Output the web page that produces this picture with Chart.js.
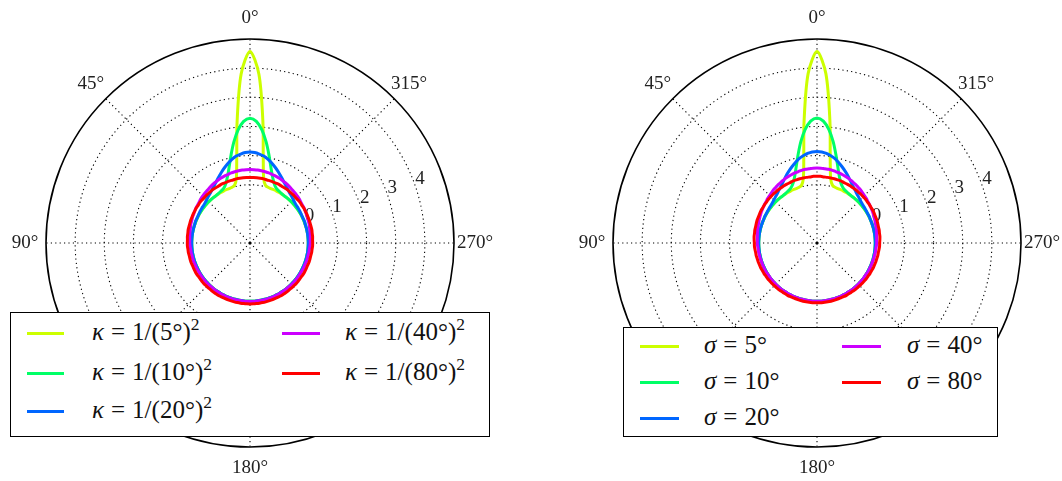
<!DOCTYPE html>
<html>
<head>
<meta charset="utf-8">
<script src="https://cdn.jsdelivr.net/npm/chart.js@4.4.1/dist/chart.umd.min.js"></script>
<style>
  body { margin: 0; background: #fff; }
  #wrap { position: relative; width: 1062px; height: 481px; overflow: hidden; font-family: "Liberation Serif", serif; }
  canvas { position: absolute; top: 0; }
  .legend { position: absolute; background: #fff; border: 1.5px solid #000; box-sizing: border-box; }
  .swatch { position: absolute; height: 3px; }
  .item { position: absolute; font-family: "Liberation Serif", serif; font-size: 25px; line-height: 25px; white-space: nowrap; color: #111; }
  .item .eq { margin: 0 7px; }
  .item sup { font-size: 0.7em; line-height: 0; vertical-align: 0.55em; }
</style>
</head>
<body>
<div id="wrap">
  <canvas id="left" width="531" height="481" style="left:0"></canvas>
  <canvas id="right" width="531" height="481" style="left:531px"></canvas>
</div>
<script>
// angles (deg, counter-clockwise from top) at which the curves are read
const thetaDeg = Array.from({ length: 120 }, (_, i) => i * 3);
const spokeAngles = [0, 45, 90, 135, 180, 225, 270, 315];
const ringTicks = [0, 1, 2, 3, 4];
const rMin = -2, rMax = 5;
const sigmaDeg = [5, 10, 20, 40, 80];
const colors = ['#ccff00', '#00ff66', '#0066ff', '#cc00ff', '#ff0000'];

const Z = [0, 0, 0, 0, 0, 0, 0, 0, 0, 0, 0, 0, 0, 0, 0];

// left panel: kappa = 1/sigma^2
const kappa5 = [
  4.57, 3.81, 2.22, 0.91, 0.26, 0.05, 0.01, 0, 0, 0, 0, 0, 0, 0, 0,
  ...Z, ...Z, ...Z, ...Z, ...Z, ...Z,
  0, 0, 0, 0, 0, 0, 0, 0, 0, 0.01, 0.05, 0.26, 0.91, 2.22, 3.81
];
const kappa10 = [
  2.28, 2.18, 1.90, 1.52, 1.11, 0.74, 0.46, 0.26, 0.13, 0.06, 0.03, 0.01, 0, 0, 0,
  ...Z, ...Z, ...Z, ...Z, ...Z, ...Z,
  0, 0, 0, 0, 0.01, 0.03, 0.06, 0.13, 0.26, 0.46, 0.74, 1.11, 1.52, 1.90, 2.18
];
const kappa20 = [
  1.12, 1.11, 1.07, 1.02, 0.94, 0.85, 0.75, 0.65, 0.55, 0.46, 0.37, 0.30, 0.23, 0.18, 0.14,
  0.10, 0.07, 0.05, 0.04, 0.03, 0.02, 0.01, 0.01, 0.01, 0, 0, 0, 0, 0, 0,
  ...Z, ...Z, ...Z, ...Z,
  0, 0, 0, 0, 0, 0, 0, 0.01, 0.01, 0.01, 0.02, 0.03, 0.04, 0.05, 0.07,
  0.10, 0.14, 0.18, 0.23, 0.30, 0.37, 0.46, 0.55, 0.65, 0.75, 0.85, 0.94, 1.02, 1.07, 1.11
];
const kappa40 = [
  0.52, 0.52, 0.52, 0.51, 0.50, 0.49, 0.47, 0.46, 0.44, 0.42, 0.40, 0.38, 0.35, 0.33, 0.31,
  0.29, 0.27, 0.24, 0.22, 0.21, 0.19, 0.17, 0.16, 0.14, 0.13, 0.11, 0.10, 0.09, 0.08, 0.07,
  0.07, 0.06, 0.05, 0.05, 0.04, 0.04, 0.04, 0.03, 0.03, 0.03, 0.02, 0.02, 0.02, 0.02, 0.02,
  0.02, 0.01, 0.01, 0.01, 0.01, 0.01, 0.01, 0.01, 0.01, 0.01, 0.01, 0.01, 0.01, 0.01, 0.01,
  0.01, 0.01, 0.01, 0.01, 0.01, 0.01, 0.01, 0.01, 0.01, 0.01, 0.01, 0.01, 0.01, 0.01, 0.01,
  0.02, 0.02, 0.02, 0.02, 0.02, 0.02, 0.03, 0.03, 0.03, 0.04, 0.04, 0.04, 0.05, 0.05, 0.06,
  0.07, 0.07, 0.08, 0.09, 0.10, 0.11, 0.13, 0.14, 0.16, 0.17, 0.19, 0.21, 0.22, 0.24, 0.27,
  0.29, 0.31, 0.33, 0.35, 0.38, 0.40, 0.42, 0.44, 0.46, 0.47, 0.49, 0.50, 0.51, 0.52, 0.52
];
const kappa80 = [
  0.25, 0.25, 0.25, 0.25, 0.25, 0.24, 0.24, 0.24, 0.24, 0.24, 0.23, 0.23, 0.23, 0.22, 0.22,
  0.21, 0.21, 0.21, 0.20, 0.20, 0.19, 0.19, 0.18, 0.18, 0.17, 0.17, 0.17, 0.16, 0.16, 0.15,
  0.15, 0.15, 0.14, 0.14, 0.13, 0.13, 0.13, 0.12, 0.12, 0.12, 0.12, 0.11, 0.11, 0.11, 0.11,
  0.10, 0.10, 0.10, 0.10, 0.10, 0.10, 0.09, 0.09, 0.09, 0.09, 0.09, 0.09, 0.09, 0.09, 0.09,
  0.09, 0.09, 0.09, 0.09, 0.09, 0.09, 0.09, 0.09, 0.09, 0.09, 0.10, 0.10, 0.10, 0.10, 0.10,
  0.10, 0.11, 0.11, 0.11, 0.11, 0.12, 0.12, 0.12, 0.12, 0.13, 0.13, 0.13, 0.14, 0.14, 0.15,
  0.15, 0.15, 0.16, 0.16, 0.17, 0.17, 0.17, 0.18, 0.18, 0.19, 0.19, 0.20, 0.20, 0.21, 0.21,
  0.21, 0.22, 0.22, 0.23, 0.23, 0.23, 0.24, 0.24, 0.24, 0.24, 0.24, 0.25, 0.25, 0.25, 0.25
];

// right panel: sigma
const sigma5 = [
  4.57, 3.82, 2.23, 0.90, 0.26, 0.05, 0.01, 0, 0, 0, 0, 0, 0, 0, 0,
  ...Z, ...Z, ...Z, ...Z, ...Z, ...Z,
  0, 0, 0, 0, 0, 0, 0, 0, 0, 0.01, 0.05, 0.26, 0.90, 2.23, 3.82
];
const sigma10 = [
  2.29, 2.19, 1.91, 1.53, 1.11, 0.74, 0.45, 0.25, 0.13, 0.06, 0.03, 0.01, 0, 0, 0,
  ...Z, ...Z, ...Z, ...Z, ...Z, ...Z,
  0, 0, 0, 0, 0.01, 0.03, 0.06, 0.13, 0.25, 0.45, 0.74, 1.11, 1.53, 1.91, 2.19
];
const sigma20 = [
  1.14, 1.13, 1.09, 1.03, 0.96, 0.86, 0.76, 0.66, 0.56, 0.46, 0.37, 0.29, 0.23, 0.17, 0.13,
  0.09, 0.06, 0.04, 0.03, 0.02, 0.01, 0.01, 0, 0, 0, 0, 0, 0, 0, 0,
  ...Z, ...Z, ...Z, ...Z,
  0, 0, 0, 0, 0, 0, 0, 0, 0, 0.01, 0.01, 0.02, 0.03, 0.04, 0.06,
  0.09, 0.13, 0.17, 0.23, 0.29, 0.37, 0.46, 0.56, 0.66, 0.76, 0.86, 0.96, 1.03, 1.09, 1.13
];
const sigma40 = [
  0.57, 0.57, 0.56, 0.56, 0.55, 0.53, 0.52, 0.50, 0.48, 0.46, 0.43, 0.41, 0.38, 0.36, 0.33,
  0.30, 0.28, 0.25, 0.23, 0.21, 0.19, 0.17, 0.15, 0.13, 0.11, 0.10, 0.09, 0.07, 0.06, 0.05,
  0.05, 0.04, 0.03, 0.03, 0.02, 0.02, 0.01, 0.01, 0.01, 0.01, 0.01, 0, 0, 0, 0,
  ...Z, ...Z,
  0, 0, 0, 0, 0, 0.01, 0.01, 0.01, 0.01, 0.01, 0.02, 0.02, 0.03, 0.03, 0.04,
  0.05, 0.05, 0.06, 0.07, 0.09, 0.10, 0.11, 0.13, 0.15, 0.17, 0.19, 0.21, 0.23, 0.25, 0.28,
  0.30, 0.33, 0.36, 0.38, 0.41, 0.43, 0.46, 0.48, 0.50, 0.52, 0.53, 0.55, 0.56, 0.56, 0.57
];
const sigma80 = [
  0.29, 0.29, 0.28, 0.28, 0.28, 0.28, 0.28, 0.28, 0.27, 0.27, 0.27, 0.26, 0.26, 0.25, 0.25,
  0.24, 0.24, 0.23, 0.23, 0.22, 0.22, 0.21, 0.20, 0.20, 0.19, 0.18, 0.18, 0.17, 0.17, 0.16,
  0.15, 0.15, 0.14, 0.13, 0.13, 0.12, 0.12, 0.11, 0.11, 0.10, 0.10, 0.09, 0.09, 0.08, 0.08,
  0.07, 0.07, 0.07, 0.06, 0.06, 0.06, 0.06, 0.05, 0.05, 0.05, 0.05, 0.05, 0.05, 0.05, 0.05,
  0.05, 0.05, 0.05, 0.05, 0.05, 0.05, 0.05, 0.05, 0.05, 0.06, 0.06, 0.06, 0.06, 0.07, 0.07,
  0.07, 0.08, 0.08, 0.09, 0.09, 0.10, 0.10, 0.11, 0.11, 0.12, 0.12, 0.13, 0.13, 0.14, 0.15,
  0.15, 0.16, 0.17, 0.17, 0.18, 0.18, 0.19, 0.20, 0.20, 0.21, 0.22, 0.22, 0.23, 0.23, 0.24,
  0.24, 0.25, 0.25, 0.26, 0.26, 0.27, 0.27, 0.27, 0.28, 0.28, 0.28, 0.28, 0.28, 0.28, 0.29
];

const kappaSeries = [kappa5, kappa10, kappa20, kappa40, kappa80];
const sigmaSeries = [sigma5, sigma10, sigma20, sigma40, sigma80];

// radar runs clockwise; the plot runs counter-clockwise, so walk the arrays backwards
const ccw = a => [a[0], ...a.slice(1).reverse()];

// dotted rings, spokes, frame and tick labels in matplotlib polar style
const polarFrame = {
  id: 'polarFrame',
  beforeDatasetsDraw(chart) {
    const s = chart.scales.r;
    const ctx = chart.ctx;
    const cx = s.xCenter, cy = s.yCenter;
    const R = s.getDistanceFromCenterForValue(rMax);
    ctx.save();
    ctx.strokeStyle = '#000';
    ctx.lineWidth = 1.1;
    ctx.setLineDash([1.2, 3.2]);
    ringTicks.forEach(v => {
      ctx.beginPath();
      ctx.arc(cx, cy, s.getDistanceFromCenterForValue(v), 0, Math.PI * 2);
      ctx.stroke();
    });
    spokeAngles.forEach(a => {
      const t = a * Math.PI / 180;
      ctx.beginPath();
      ctx.moveTo(cx, cy);
      ctx.lineTo(cx - R * Math.sin(t), cy - R * Math.cos(t));
      ctx.stroke();
    });
    ctx.setLineDash([]);
    ctx.lineWidth = 1.6;
    ctx.beginPath();
    ctx.arc(cx, cy, R, 0, Math.PI * 2);
    ctx.stroke();
    ctx.fillStyle = '#000';
    ctx.beginPath();
    ctx.arc(cx, cy, 1.6, 0, Math.PI * 2);
    ctx.fill();

    ctx.fillStyle = '#222';
    ctx.font = '19px "Liberation Serif"';
    ctx.textAlign = 'center';
    ctx.textBaseline = 'middle';
    spokeAngles.forEach(a => {
      const t = a * Math.PI / 180;
      ctx.fillText(a + '°', cx - (R + 21) * Math.sin(t), cy - (R + 21) * Math.cos(t));
    });
    const phi = 18.7 * Math.PI / 180;
    ringTicks.forEach(v => {
      const d = s.getDistanceFromCenterForValue(v);
      ctx.fillText(String(v), cx + d * Math.cos(phi) + 4.3, cy - d * Math.sin(phi) - 7.8);
    });
    ctx.restore();
  }
};

function makePolar(id, series, names, padding) {
  new Chart(document.getElementById(id), {
    type: 'radar',
    data: {
      labels: ccw(thetaDeg),
      datasets: series.map((vals, i) => ({
        label: names[i],
        data: ccw(vals),
        borderColor: colors[i],
        borderWidth: 3,
        borderJoinStyle: 'round',
        pointRadius: 0,
        fill: false,
        tension: 0.3,
        order: series.length - i
      }))
    },
    options: {
      responsive: false,
      animation: false,
      events: [],
      layout: { padding: padding },
      plugins: { legend: { display: false }, tooltip: { enabled: false } },
      scales: {
        r: {
          min: rMin,
          max: rMax,
          ticks: { display: false, stepSize: 1 },
          grid: { display: false },
          angleLines: { display: false },
          pointLabels: { display: false }
        }
      }
    },
    plugins: [polarFrame]
  });
}

makePolar('left', kappaSeries, sigmaDeg.map(s => 'κ = 1/(' + s + '°)²'),
  { left: 46, top: 39, right: 77, bottom: 34 });
makePolar('right', sigmaSeries, sigmaDeg.map(s => 'σ = ' + s + '°'),
  { left: 82, top: 39, right: 41, bottom: 34 });

// legends drawn over the plots, like matplotlib's framed legend
function makeLegend(box, rows, cols, html) {
  const wrap = document.getElementById('wrap');
  const el = document.createElement('div');
  el.className = 'legend';
  Object.assign(el.style, { left: box.x + 'px', top: box.y + 'px', width: box.w + 'px', height: box.h + 'px' });
  wrap.appendChild(el);
  sigmaDeg.forEach((s, i) => {
    const col = cols[Math.floor(i / 3)], y = rows[i % 3];
    const sw = document.createElement('div');
    sw.className = 'swatch';
    Object.assign(sw.style, { left: col.sx + 'px', top: (y - 1.5) + 'px', width: col.sw + 'px', background: colors[i] });
    wrap.appendChild(sw);
    const t = document.createElement('div');
    t.className = 'item';
    t.innerHTML = html(s);
    Object.assign(t.style, { left: col.tx + 'px', top: (y - 14) + 'px' });
    wrap.appendChild(t);
  });
}

makeLegend({ x: 10, y: 312, w: 480, h: 125 }, [333, 373, 411],
  [{ sx: 27, sw: 37, tx: 92 }, { sx: 282, sw: 38, tx: 345 }],
  s => '<i>κ</i><span class="eq">=</span>1/(' + s + '°)<sup>2</sup>');
makeLegend({ x: 623, y: 327, w: 375, h: 110 }, [346, 382, 418],
  [{ sx: 640, sw: 39, tx: 704 }, { sx: 842, sw: 39, tx: 907 }],
  s => '<i>σ</i><span class="eq">=</span>' + s + '°');
</script>
</body>
</html>
